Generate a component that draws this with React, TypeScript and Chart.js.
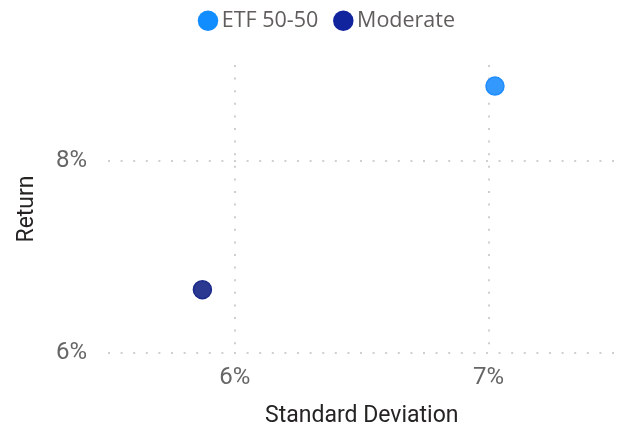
import React, { useEffect, useRef } from "react";
import { Chart, registerables } from "chart.js";

Chart.register(...registerables);

const seriesNames = ["ETF 50-50", "Moderate"];
const stdDev = [7.025, 5.872];
const returns = [8.78, 6.66];
const pointColors = ["#118DFF", "#12239E"];
const pointBorders = ["#1F8CFF", "#1C2A8A"];
const pointFills = ["#3399FF", "#2B3A90"];
const xTicks = [6, 7];
const yTicks = [6, 8];
const xTitle = "Standard Deviation";
const yTitle = "Return";

const legendSpacer = {
  id: "legendSpacer",
  beforeLayout(chart: any) {
    const lg = chart.legend;
    if (lg && !lg._patched) {
      const origFit = lg.fit;
      lg.fit = function () {
        origFit.call(this);
        this.height = 77;
      };
      const origDraw = lg.draw;
      lg.draw = function (...args: any[]) {
        const ctx = this.ctx;
        ctx.save();
        ctx.translate(20, 0);
        origDraw.apply(this, args);
        ctx.restore();
      };
      lg._patched = true;
    }
  },
};

export default function App() {
  const ref = useRef<HTMLCanvasElement>(null);
  useEffect(() => {
    if (!ref.current) return;
    const grid = {
      color: "#CFCFCF",
      lineWidth: 2,
      drawTicks: false,
    };
    const border = { display: false, dash: [2, 10.6] };
    const chart = new Chart(ref.current, {
      type: "scatter",
      data: {
        datasets: seriesNames.map((name, i) => ({
          label: name,
          data: [{ x: stdDev[i], y: returns[i] }],
          backgroundColor: pointFills[i],
          borderColor: pointBorders[i],
          borderWidth: 1.5,
          pointRadius: 9,
        })),
      },
      options: {
        animation: false,
        responsive: false,
        layout: { padding: { left: 0, right: 6, top: -12, bottom: 0 } },
        plugins: {
          tooltip: { enabled: false },
          legend: {
            position: "top",
            labels: {
              usePointStyle: true,
              pointStyle: "circle",
              boxHeight: 14.5,
              boxWidth: 6,
              padding: 22,
              color: "#605E5C",
              font: { family: "'Open Sans', 'Noto Sans', sans-serif", size: 21.5 },
              generateLabels: () =>
                seriesNames.map((name, i) => ({
                  text: name,
                  fillStyle: pointColors[i],
                  strokeStyle: pointColors[i],
                  lineWidth: 0,
                  pointStyle: "circle",
                  datasetIndex: i,
                  fontColor: "#605E5C",
                })),
            },
          },
        },
        scales: {
          x: {
            type: "linear",
            min: 5.5,
            max: 7.5,
            afterBuildTicks: (s: any) => {
              s.ticks = xTicks.map((v) => ({ value: v }));
            },
            afterFit: (s: any) => {
              s.height = 75;
            },
            grid,
            border,
            ticks: {
              padding: 11,
              color: "#666666",
              font: { family: "Roboto, sans-serif", size: 24 },
              callback: (v: any) => v + "%",
            },
            title: {
              display: true,
              text: xTitle,
              color: "#252423",
              font: { family: "Roboto, sans-serif", size: 23, lineHeight: 1 },
              padding: { top: 0, bottom: 0 },
            },
          },
          y: {
            type: "linear",
            min: 6,
            max: 9,
            afterBuildTicks: (s: any) => {
              s.ticks = yTicks.map((v) => ({ value: v }));
            },
            afterFit: (s: any) => {
              s.width = 108;
            },
            grid,
            border,
            ticks: {
              padding: 21,
              color: "#666666",
              font: { family: "Roboto, sans-serif", size: 24 },
              callback: (v: any) => v + "%",
            },
            title: {
              display: true,
              text: yTitle,
              color: "#252423",
              font: { family: "Roboto, sans-serif", size: 23, lineHeight: 1 },
              padding: { top: 16, bottom: 0 },
            },
          },
        },
      },
      plugins: [legendSpacer],
    } as any);
    return () => chart.destroy();
  }, []);
  return (
    <div style={{ position: "fixed", top: 0, left: 0, width: 626, height: 428, background: "#fff" }}>
      <canvas ref={ref} width={626} height={428} />
    </div>
  );
}
